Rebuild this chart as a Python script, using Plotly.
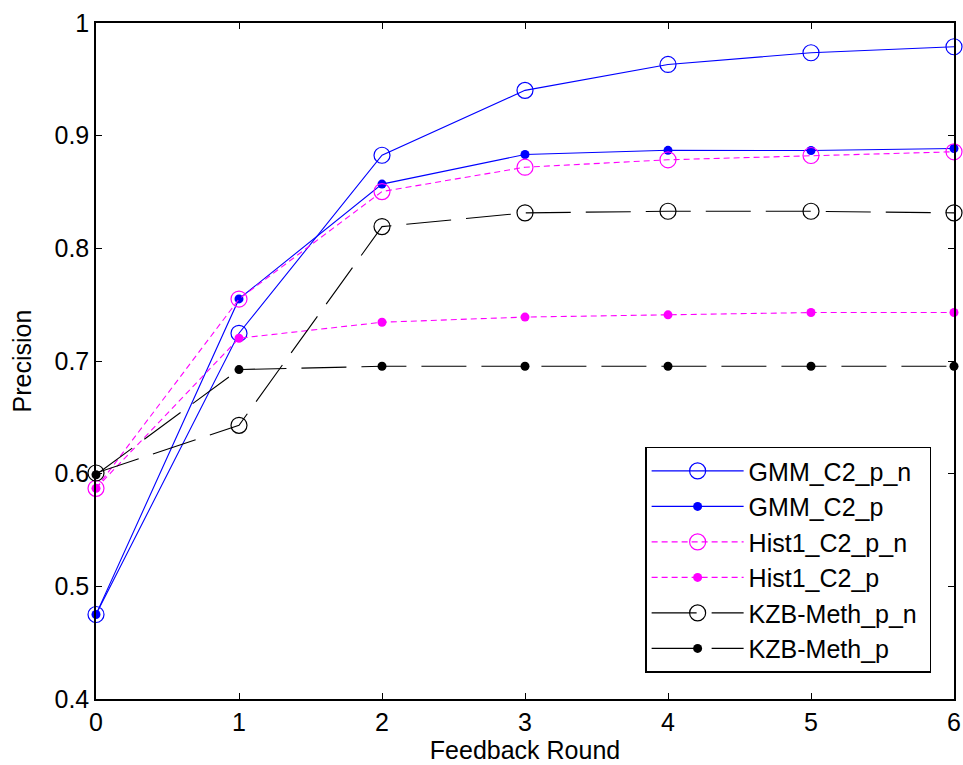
import plotly.graph_objects as go

rounds = [0, 1, 2, 3, 4, 5, 6]

gmm_p_n = [0.475, 0.7246, 0.8826, 0.9402, 0.9632, 0.9736, 0.9789]
gmm_p = [0.475, 0.7551, 0.857, 0.8833, 0.887, 0.8868, 0.8886]
hist_p_n = [0.587, 0.755, 0.8504, 0.872, 0.8786, 0.8824, 0.8857]
hist_p = [0.587, 0.7202, 0.7344, 0.739, 0.741, 0.743, 0.743]
kzb_p_n = [0.6006, 0.6429, 0.8193, 0.8315, 0.8329, 0.8329, 0.8315]
kzb_p = [0.599, 0.6924, 0.6953, 0.6953, 0.6953, 0.6953, 0.6953]

names = ["GMM_C2_p_n", "GMM_C2_p", "Hist1_C2_p_n", "Hist1_C2_p", "KZB-Meth_p_n", "KZB-Meth_p"]
series = [gmm_p_n, gmm_p, hist_p_n, hist_p, kzb_p_n, kzb_p]
colors = ["#0000FF", "#0000FF", "#FF00FF", "#FF00FF", "#000000", "#000000"]
dashes = ["solid", "solid", "6px,4px", "6px,4px", "45px,15px", "45px,15px"]
open_marker = [True, False, True, False, True, False]

FONT = "Arial, 'Liberation Sans', sans-serif"
FS = 25

fig = go.Figure()
for i, (nm, ys, c, d, op) in enumerate(zip(names, series, colors, dashes, open_marker)):
    if op:
        marker = dict(symbol="circle-open", size=16, color=c, line=dict(width=1.2, color=c))
    else:
        marker = dict(symbol="circle", size=9, color=c, line=dict(width=0, color=c))
    fig.add_trace(go.Scatter(
        x=rounds, y=ys, name=nm + "\u00a0", mode="lines+markers",
        line=dict(color=c, width=1.1, dash=d),
        marker=marker, legendgroup=f"g{i}", cliponaxis=False,
    ))

axis_common = dict(
    showline=True, linecolor="black", linewidth=1.5, mirror="ticks",
    ticks="inside", ticklen=6, tickcolor="black", tickwidth=1,
    showgrid=False, zeroline=False, automargin=False,
    tickfont=dict(family=FONT, size=FS, color="black"),
)

fig.update_layout(
    width=963, height=765,
    margin=dict(l=96, r=9, t=23, b=66),
    paper_bgcolor="white", plot_bgcolor="white",
    font=dict(family=FONT, size=FS, color="black"),
    xaxis=dict(range=[0, 6], tickvals=rounds, ticktext=[str(r) for r in rounds],
               title=dict(text="Feedback Round", font=dict(family=FONT, size=FS), standoff=6),
               **axis_common),
    yaxis=dict(range=[0.4, 1.0], tickvals=[0.4, 0.5, 0.6, 0.7, 0.8, 0.9, 1.0],
               ticktext=["0.4", "0.5", "0.6", "0.7", "0.8", "0.9", "1"],
               title=dict(text="Precision", font=dict(family=FONT, size=FS), standoff=16),
               **axis_common),
    legend=dict(x=0.64, y=0.039, xanchor="left", yanchor="bottom",
                bgcolor="white", bordercolor="black", borderwidth=1.5,
                font=dict(family=FONT, size=FS, color="black"),
                itemwidth=92, tracegroupgap=9, traceorder="normal"),
    showlegend=True,
)

fig.write_html("out.html")
